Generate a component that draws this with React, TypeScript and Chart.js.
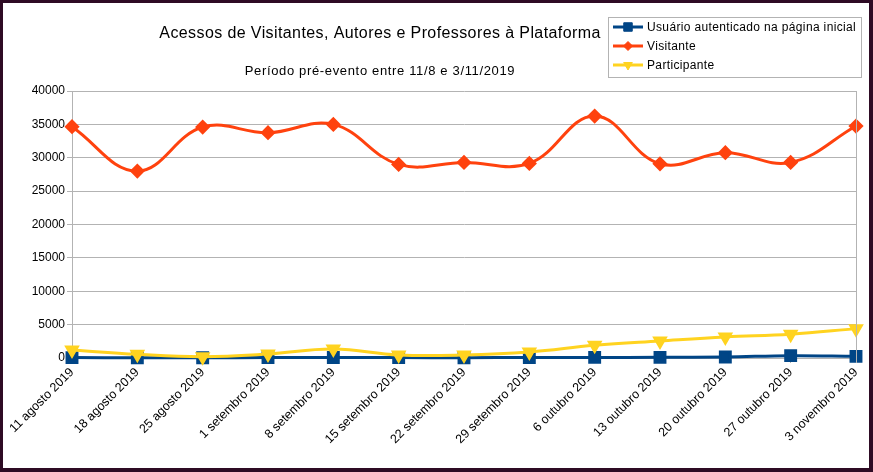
import React, { useEffect, useRef } from 'react';
import { Chart, registerables } from 'chart.js';
import { drawPoint } from 'chart.js/helpers';

Chart.register(...registerables);

const FONT = "'Liberation Sans', Arial, sans-serif";

const weeks = [
  '11 agosto 2019', '18 agosto 2019', '25 agosto 2019', '1 setembro 2019',
  '8 setembro 2019', '15 setembro 2019', '22 setembro 2019', '29 setembro 2019',
  '6 outubro 2019', '13 outubro 2019', '20 outubro 2019', '27 outubro 2019',
  '3 novembro 2019',
];

const usuarioAutenticado = [60, 30, 40, 60, 80, 60, 40, 80, 90, 100, 150, 350, 250];
const visitante = [34650, 28000, 34600, 33750, 35000, 29000, 29300, 29150, 36250, 29100, 30750, 29300, 34750];
const participante = [1200, 550, 200, 600, 1350, 450, 450, 900, 1900, 2550, 3150, 3550, 4400];

const yTicks = [0, 5000, 10000, 15000, 20000, 25000, 30000, 35000, 40000];

const chartTitle = 'Acessos de Visitantes, Autores e Professores à Plataforma';
const chartSubtitle = 'Período pré-evento entre 11/8 e 3/11/2019';

const App: React.FC = () => {
  const canvasRef = useRef<HTMLCanvasElement>(null);
  const chartRef = useRef<any>(null);

  useEffect(() => {
    document.body.style.margin = '0';
    if (!canvasRef.current) return;

    // titles, legend box and the right frame line
    const decorations = {
      id: 'decorations',
      afterDraw: (chart: any) => {
        const { ctx, chartArea } = chart;
        ctx.save();
        ctx.strokeStyle = '#b3b3b3';
        ctx.lineWidth = 1;
        ctx.beginPath();
        ctx.moveTo(Math.round(chartArea.right) + 0.5, chartArea.top);
        ctx.lineTo(Math.round(chartArea.right) + 0.5, chartArea.bottom + 5);
        ctx.stroke();

        ctx.fillStyle = '#000';
        ctx.textAlign = 'center';
        ctx.textBaseline = 'middle';
        ctx.font = `16px ${FONT}`;
        ctx.letterSpacing = '0.4px';
        ctx.fillText(chartTitle, 377, 31);
        ctx.font = `13px ${FONT}`;
        ctx.letterSpacing = '0.65px';
        ctx.fillText(chartSubtitle, 377, 68);

        // legend
        ctx.strokeStyle = '#b3b3b3';
        ctx.strokeRect(605.5, 14.5, 253, 60);
        ctx.font = `12px ${FONT}`;
        ctx.letterSpacing = '0.35px';
        ctx.textAlign = 'left';
        chart.data.datasets.forEach((ds: any, i: number) => {
          const y = 24 + i * 19;
          ctx.strokeStyle = ds.borderColor;
          ctx.lineWidth = 3;
          ctx.beginPath();
          ctx.moveTo(610, y);
          ctx.lineTo(640, y);
          ctx.stroke();
          ctx.fillStyle = ds.borderColor;
          ctx.lineWidth = 1;
          drawPoint(ctx, {
            pointStyle: ds.pointStyle,
            rotation: ds.pointRotation || 0,
            radius: ds.pointRadius - 1,
            borderWidth: 1,
          }, 625, y);
          ctx.fillStyle = '#000';
          ctx.fillText(ds.label, 644, y + 1);
        });
        ctx.restore();
      },
    };

    chartRef.current = new Chart(canvasRef.current, {
      type: 'line',
      data: {
        labels: weeks,
        datasets: [
          {
            label: 'Usuário autenticado na página inicial',
            data: usuarioAutenticado,
            borderColor: '#004586',
            backgroundColor: '#004586',
            borderWidth: 3,
            pointStyle: 'rect',
            pointRadius: 7,
            tension: 0.4,
            clip: false,
            order: 2,
          },
          {
            label: 'Visitante',
            data: visitante,
            borderColor: '#ff420e',
            backgroundColor: '#ff420e',
            borderWidth: 3,
            pointStyle: 'rectRot',
            pointRadius: 5.5,
            tension: 0.4,
            clip: false,
            order: 1,
          },
          {
            label: 'Participante',
            data: participante,
            borderColor: '#ffd320',
            backgroundColor: '#ffd320',
            borderWidth: 3,
            pointStyle: 'triangle',
            pointRotation: 180,
            pointRadius: 6,
            tension: 0.4,
            clip: false,
            order: 0,
          },
        ],
      },
      options: {
        responsive: true,
        maintainAspectRatio: false,
        animation: false,
        layout: { padding: { top: 88, right: 13, left: 0, bottom: 0 } },
        plugins: {
          legend: { display: false },
          title: { display: false },
          tooltip: { enabled: false },
        },
        scales: {
          x: {
            offset: false,
            grid: { drawOnChartArea: false, drawTicks: true, tickLength: 5, color: '#b3b3b3' },
            border: { color: '#b3b3b3' },
            ticks: {
              autoSkip: false,
              maxRotation: 45,
              minRotation: 45,
              padding: 2,
              color: '#000',
              font: { family: FONT, size: 12.5 },
            },
            afterFit: (s: any) => {
              s.height = 110;
              s.paddingLeft = 0;
              s.paddingRight = 0;
            },
          },
          y: {
            min: 0,
            max: 40000,
            afterBuildTicks: (s: any) => {
              s.ticks = yTicks.map(v => ({ value: v }));
            },
            grid: { color: '#b3b3b3', tickLength: 5 },
            border: { color: '#b3b3b3' },
            ticks: {
              padding: 2,
              color: '#000',
              font: { family: FONT, size: 12 },
              callback: (v: any) => String(v),
            },
            afterFit: (s: any) => {
              s.width = 69;
              s.paddingTop = 0;
              s.paddingBottom = 0;
            },
          },
        },
      },
      plugins: [decorations],
    });

    return () => {
      if (chartRef.current) {
        chartRef.current.destroy();
        chartRef.current = null;
      }
    };
  }, []);

  return (
    <div
      style={{
        width: 873,
        height: 472,
        boxSizing: 'border-box',
        borderStyle: 'solid',
        borderColor: '#2e0b24',
        borderWidth: '3px 4px 4px 3px',
        background: '#fff',
      }}
    >
      <div style={{ position: 'relative', width: 866, height: 465 }}>
        <canvas ref={canvasRef}></canvas>
      </div>
    </div>
  );
};

export default App;
